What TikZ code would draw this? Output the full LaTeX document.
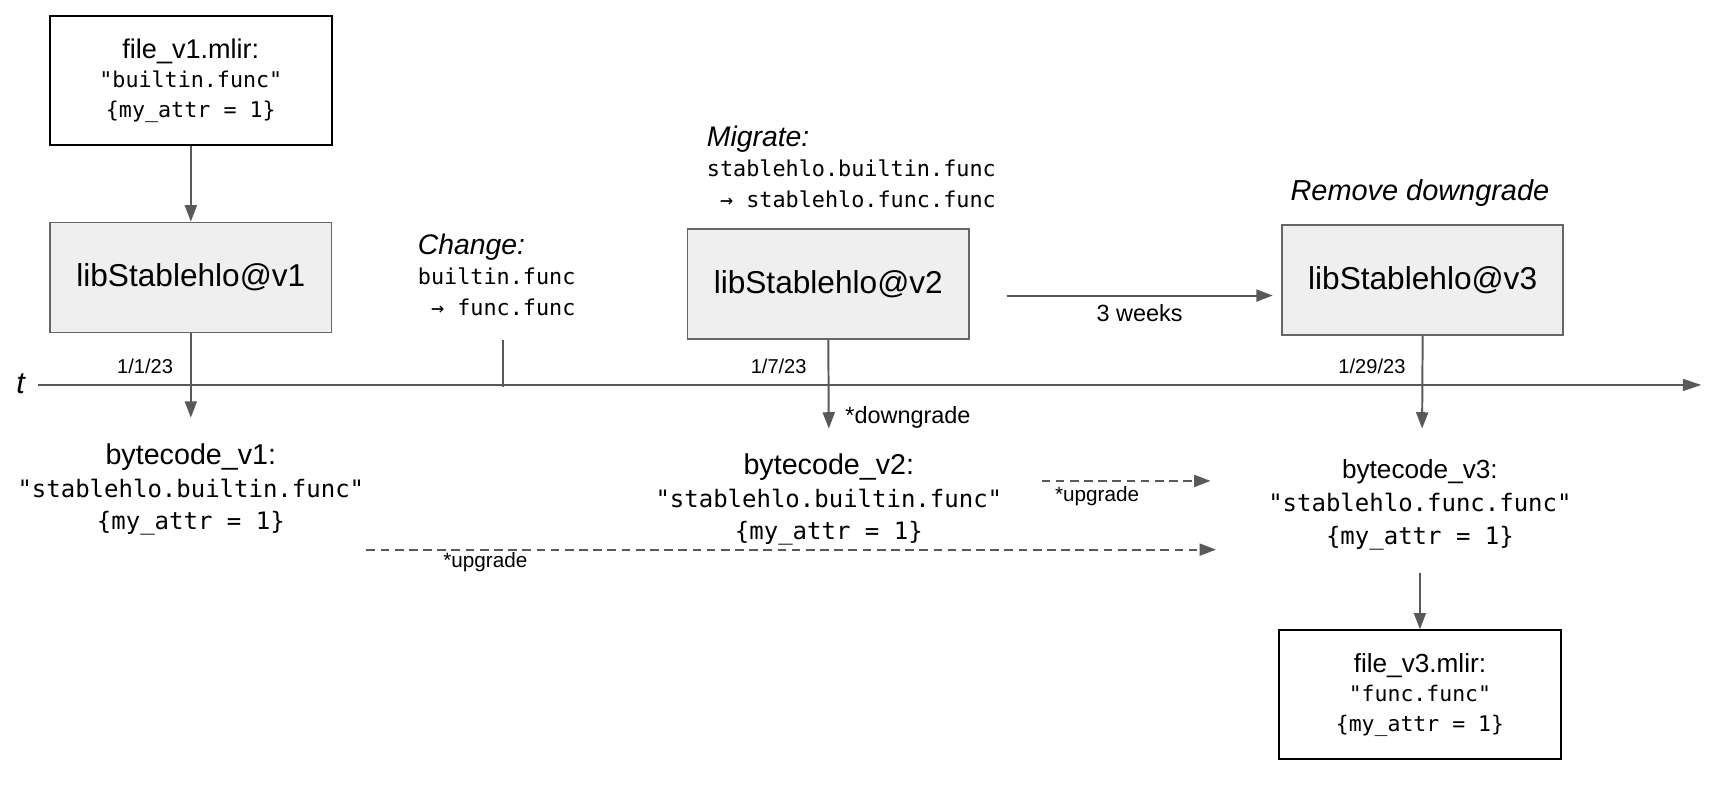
\documentclass[tikz,border=0pt]{standalone}
\usepackage{fontspec}
\setmainfont{Liberation Sans}
\setmonofont{DejaVu Sans Mono}
\usetikzlibrary{arrows.meta,calc}
\definecolor{conncol}{HTML}{595959}
\definecolor{boxgray}{HTML}{666666}
\definecolor{libfill}{HTML}{EFEFEF}
\tikzset{
  wire/.style={draw=conncol, line width=1.8pt, -{Triangle[length=15pt,width=11pt]}},
  dwire/.style={wire, dash pattern=on 8pt off 5pt},
  libbox/.style={draw=boxgray, fill=libfill, line width=1.6pt, minimum width=258pt, minimum height=101pt, inner sep=0pt, font=\fontsize{29}{34}\selectfont},
  filebox/.style={draw=black, line width=1.8pt, minimum width=258pt, minimum height=118pt, inner sep=0pt, align=center},
  lbl/.style={inner sep=0pt, font=\fontsize{19}{22}\selectfont},
  datelbl/.style={inner sep=0pt, font=\fontsize{18.4}{22}\selectfont},
  biglbl/.style={inner sep=0pt, font=\fontsize{21.5}{24}\selectfont},
  codeblk/.style={inner sep=0pt, align=center, font=\ttfamily\fontsize{22}{30}\selectfont},
  noteblk/.style={inner sep=0pt, align=left, anchor=west, font=\ttfamily\fontsize{20}{28}\selectfont}
}
\begin{document}
\begin{tikzpicture}[x=1pt,y=-1pt]
\useasboundingbox (0,0) rectangle (1568,724.4);

% top file box and libs
\node[filebox, font=\ttfamily\fontsize{19.9}{27}\selectfont] (f1) at (175,74)
  {{\rmfamily\fontsize{24.8}{27}\selectfont file\_v1.mlir:}\\ "builtin.func"\\ \{my\_attr = 1\}};
\node[libbox] (v1) at (175,254.5) {libStablehlo@v1};
\node[libbox] (v2) at (759.5,260.5) {libStablehlo@v2};
\node[libbox] (v3) at (1304.5,257) {libStablehlo@v3};

% notes
\node[noteblk] (chg) at (383,252)
  {{\rmfamily\itshape\fontsize{26}{28}\selectfont Change:}\\ builtin.func\\ \phantom{x}→ func.func};
\node[noteblk] (mig) at (648,153)
  {{\rmfamily\itshape\fontsize{26}{28}\selectfont Migrate:}\\ stablehlo.builtin.func\\ \phantom{x}→ stablehlo.func.func};
\node[inner sep=0pt, font=\itshape\fontsize{26.5}{30}\selectfont] (rmv) at (1302,177) {Remove downgrade};

% timeline
\coordinate (t0) at (35,353);
\coordinate (t1) at (1560,353);
\draw[wire, -{Triangle[length=17pt,width=11pt]}] (t0) -- (t1);
\node[inner sep=0pt, font=\itshape\fontsize{28}{30}\selectfont] (tl) at (19,352) {t};
\coordinate (tk0) at (461,312);
\coordinate (tk1) at (461,355);
\draw[draw=conncol, line width=1.5pt] (tk0) -- (tk1);

\node[datelbl] (d1) at (133,336) {1/1/23};
\node[datelbl] (d2) at (714,336) {1/7/23};
\node[datelbl] (d3) at (1258,336) {1/29/23};

% bytecode blocks
\node[codeblk] (b1) at (175,449)
  {{\rmfamily\fontsize{26.3}{30}\selectfont bytecode\_v1:}\\ "stablehlo.builtin.func"\\ \{my\_attr = 1\}};
\node[codeblk] (b2) at (760,458)
  {{\rmfamily\fontsize{26.3}{30}\selectfont bytecode\_v2:}\\ "stablehlo.builtin.func"\\ \{my\_attr = 1\}};
\node[codeblk] (b3) at (1302,463)
  {{\rmfamily\fontsize{24}{30}\selectfont bytecode\_v3:}\\ "stablehlo.func.func"\\ \{my\_attr = 1\}};

\node[filebox, font=\ttfamily\fontsize{19.7}{27}\selectfont] (f3) at (1302,637)
  {{\rmfamily\fontsize{24}{27}\selectfont file\_v3.mlir:}\\ "func.func"\\ \{my\_attr = 1\}};

% connectors
\draw[wire] (f1) -- (v1);
\coordinate (e1) at (175,383);
\draw[wire] (v1) -- (e1);
\coordinate (e2) at (760,393);
\draw[wire] (v2.south) -- (e2);
\node[biglbl, anchor=west] (dg) at (775,383) {*downgrade};
\coordinate (e3) at (1304,393);
\draw[wire] (v3.south) -- (e3);

\coordinate (w0) at (923,271);
\coordinate (w1) at (1167,271);
\draw[wire] (w0) -- (w1);
\node[biglbl] (wk) at (1045,287) {3 weeks};

\coordinate (u1a) at (955,441);
\coordinate (u1b) at (1110,441);
\draw[dwire] (u1a) -- (u1b);
\node[lbl] (up1) at (1006,455) {*upgrade};
\coordinate (u2a) at (336,504);
\coordinate (u2b) at (1115,504);
\draw[dwire] (u2a) -- (u2b);
\node[lbl] (up2) at (445,515) {*upgrade};

\coordinate (e4) at (1302,525);
\draw[wire] (e4) -- (f3);
\end{tikzpicture}
\end{document}
